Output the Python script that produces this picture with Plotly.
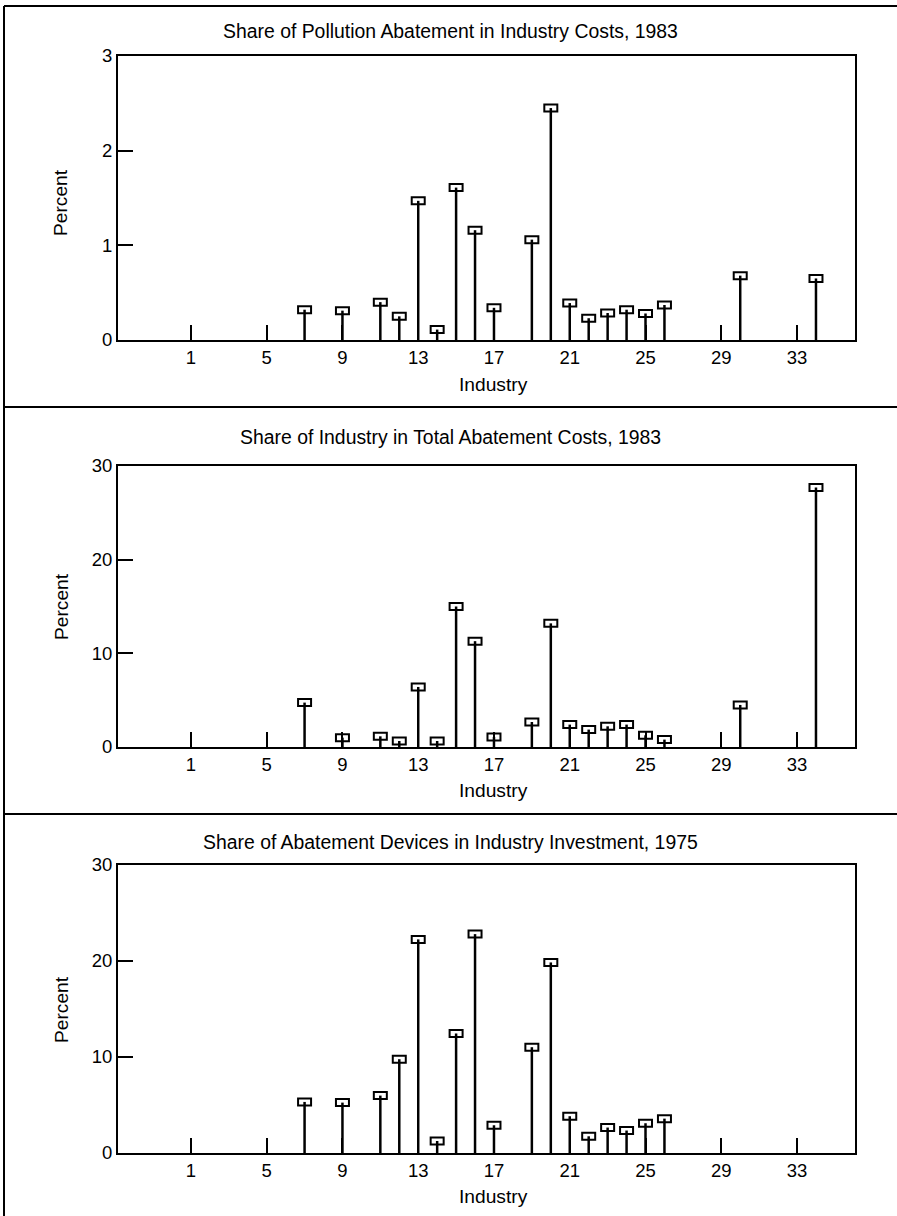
import plotly.graph_objects as go

# Industry numbers and percentage values for the three panels
industries_1983 = [7, 9, 11, 12, 13, 14, 15, 16, 17, 19, 20, 21, 22, 23, 24, 25, 26, 30, 34]
abatement_share_of_costs = [0.32, 0.31, 0.40, 0.25, 1.47, 0.11, 1.61, 1.16, 0.34, 1.06,
                            2.45, 0.39, 0.23, 0.285, 0.32, 0.28, 0.37, 0.68, 0.65]
industry_share_of_abatement = [4.74, 1.0, 1.14, 0.64, 6.41, 0.64, 15.0, 11.3, 1.07, 2.67,
                               13.2, 2.39, 1.86, 2.21, 2.39, 1.25, 0.79, 4.49, 27.7]
industries_1975 = [7, 9, 11, 12, 13, 14, 15, 16, 17, 19, 20, 21, 22, 23, 24, 25, 26]
devices_share_of_investment = [5.32, 5.25, 5.98, 9.77, 22.25, 1.25, 12.45, 22.8, 2.89, 11.02,
                               19.85, 3.83, 1.74, 2.65, 2.34, 3.1, 3.58]

x_ticks = [1, 5, 9, 13, 17, 21, 25, 29, 33]

panels = [
    dict(title="Share of Pollution Abatement in Industry Costs, 1983",
         x=industries_1983, y=abatement_share_of_costs,
         yrange=[0, 3], yticks=[0, 1, 2, 3]),
    dict(title="Share of Industry in Total Abatement Costs, 1983",
         x=industries_1983, y=industry_share_of_abatement,
         yrange=[0, 30], yticks=[0, 10, 20, 30]),
    dict(title="Share of Abatement Devices in Industry Investment, 1975",
         x=industries_1975, y=devices_share_of_investment,
         yrange=[0, 30], yticks=[0, 10, 20, 30]),
]

W, H = 897, 1216
FONT = "Liberation Sans, Arial, Helvetica, sans-serif"

# Pixel layout of each panel (top, bottom of plot area; title, tick-label and axis-title rows)
plot_left, plot_right = 118, 855
panel_px = [
    dict(top=56, bottom=340, title_y=31, xlabel_y=384, ylabel_y=203),
    dict(top=466, bottom=747, title_y=437, xlabel_y=790, ylabel_y=607),
    dict(top=865, bottom=1153, title_y=842, xlabel_y=1196, ylabel_y=1010),
]


def py(pix):
    return 1 - pix / H


def px(pix):
    return pix / W


fig = go.Figure()
shapes = []
annotations = []

for i, (p, g) in enumerate(zip(panels, panel_px), start=1):
    xa = "x" if i == 1 else f"x{i}"
    ya = "y" if i == 1 else f"y{i}"

    # stems from zero up to each value
    sx, sy = [], []
    for xv, yv in zip(p["x"], p["y"]):
        sx += [xv, xv, None]
        sy += [0, yv, None]
    fig.add_trace(go.Scatter(x=sx, y=sy, mode="lines",
                             line=dict(color="black", width=2.5),
                             xaxis=xa, yaxis=ya, showlegend=False,
                             hoverinfo="skip"))

    # small rectangular caps centred on each value
    for xv, yv in zip(p["x"], p["y"]):
        shapes.append(dict(type="rect", xref=xa, yref=ya,
                           xsizemode="pixel", xanchor=xv, x0=-6.5, x1=6.5,
                           ysizemode="pixel", yanchor=yv, y0=-3.5, y1=3.5,
                           line=dict(color="black", width=2),
                           fillcolor="rgba(0,0,0,0)", layer="above"))

    axis_common = dict(showline=True, linecolor="black", linewidth=2, mirror=True,
                       ticks="inside", ticklen=15, tickwidth=1.5, tickcolor="black",
                       showgrid=False, zeroline=False, automargin=False,
                       tickfont=dict(family=FONT, size=18.5, color="black"))

    fig.update_layout({
        ("xaxis" if i == 1 else f"xaxis{i}"): dict(
            domain=[px(plot_left), px(plot_right)], anchor=ya,
            range=[-2.85, 36.06], tickmode="array", tickvals=x_ticks,
            ticktext=[str(t) for t in x_ticks], **axis_common),
        ("yaxis" if i == 1 else f"yaxis{i}"): dict(
            domain=[py(g["bottom"]), py(g["top"])], anchor=xa,
            range=p["yrange"], tickmode="array", tickvals=p["yticks"],
            **axis_common),
    })

    annotations.append(dict(text=p["title"], xref="paper", yref="paper",
                            x=px(451), y=py(g["title_y"]), xanchor="center",
                            yanchor="middle", showarrow=False,
                            font=dict(family=FONT, size=19.4, color="black")))
    annotations.append(dict(text="Industry", xref="paper", yref="paper",
                            x=px(493), y=py(g["xlabel_y"]), xanchor="center",
                            yanchor="middle", showarrow=False,
                            font=dict(family=FONT, size=19.2, color="black")))
    annotations.append(dict(text="Percent", xref="paper", yref="paper",
                            x=px(61), y=py(g["ylabel_y"]), xanchor="center",
                            yanchor="middle", showarrow=False, textangle=-90,
                            font=dict(family=FONT, size=19.2, color="black")))

# outer frame: left rule and horizontal separators between panels
frame = dict(color="black", width=2)
shapes.append(dict(type="line", xref="paper", yref="paper",
                   x0=px(4), x1=px(4), y0=py(6), y1=0, line=frame))
for yy in [6, 407, 814]:
    shapes.append(dict(type="line", xref="paper", yref="paper",
                       x0=px(4), x1=1, y0=py(yy), y1=py(yy), line=frame))

fig.update_layout(width=W, height=H, autosize=False,
                  margin=dict(l=0, r=0, t=0, b=0, pad=0, autoexpand=False),
                  paper_bgcolor="white", plot_bgcolor="white",
                  shapes=shapes, annotations=annotations,
                  font=dict(family=FONT, color="black"))

fig.write_html("out.html")
